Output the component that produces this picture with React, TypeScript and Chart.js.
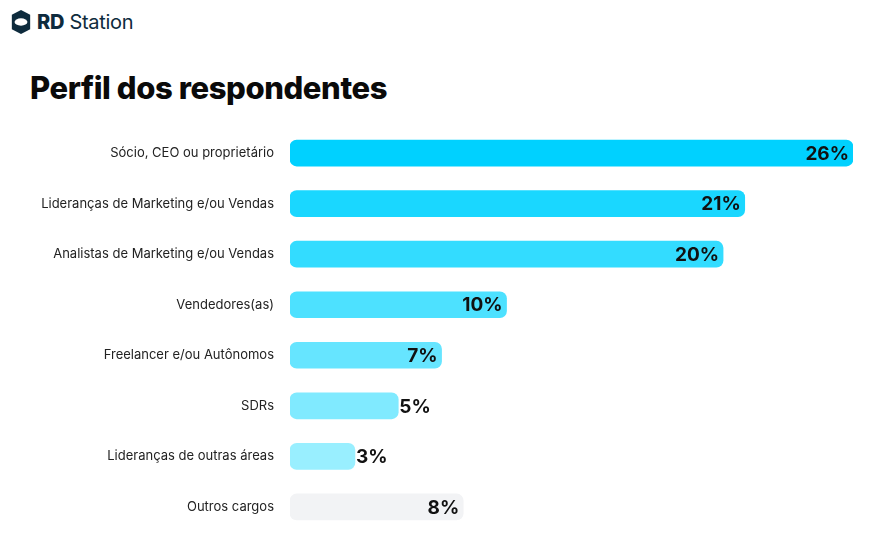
import React, { useEffect, useRef } from "react";
import { Chart, registerables } from "chart.js";
Chart.register(...registerables);

const categories = ["Sócio, CEO ou proprietário", "Lideranças de Marketing e/ou Vendas", "Analistas de Marketing e/ou Vendas", "Vendedores(as)", "Freelancer e/ou Autônomos", "SDRs", "Lideranças de outras áreas", "Outros cargos"];
const values = [26, 21, 20, 10, 7, 5, 3, 8];
const colors = ["#00d1ff", "#1ad7ff", "#33dcff", "#4de1ff", "#66e5ff", "#80eaff", "#99efff", "#f2f3f5"];
const outside = [false, false, false, false, false, true, true, false];

export default function App() {
  const ref = useRef<HTMLCanvasElement>(null);
  useEffect(() => {
    const labelPlugin = {
      id: "vals",
      afterDatasetsDraw(chart: any) {
        const ctx = chart.ctx;
        const meta = chart.getDatasetMeta(0);
        ctx.save();
        ctx.font = "700 19px Inter";
        ctx.fillStyle = "#111";
        ctx.textBaseline = "middle";
        meta.data.forEach((bar: any, i: number) => {
          const t = values[i] + "%";
          if (outside[i]) { ctx.textAlign = "left"; ctx.fillText(t, bar.x + 1, bar.y + 1); }
          else { ctx.textAlign = "right"; ctx.fillText(t, bar.x - 4, bar.y + 1); }
        });
        ctx.restore();
      },
    };
    const c = new Chart(ref.current!, {
      type: "bar",
      data: { labels: categories, datasets: [{ data: values, backgroundColor: colors, borderRadius: 7, borderSkipped: false, barThickness: 26 }] },
      options: {
        indexAxis: "y", animation: false, responsive: false, maintainAspectRatio: false,
        layout: { padding: { right: 16, top: 0, bottom: 0, left: 0 } },
        plugins: { legend: { display: false }, tooltip: { enabled: false }, title: { display: false } },
        scales: {
          x: { display: false, min: 0, max: 26 },
          y: {
            grid: { display: false }, border: { display: false },
            ticks: { color: "#222", font: { family: "Inter", size: 13 }, padding: 8 },
            afterFit: (s: any) => { s.width = 290; },
          },
        },
      },
      plugins: [labelPlugin],
    });
    return () => c.destroy();
  }, []);
  return (
    <div style={{ position: "absolute", left: 0, top: 0, width: 869, height: 540, background: "#fff", fontFamily: "Inter" }}>
      <div style={{ position: "absolute", left: 10, top: 9, display: "flex", alignItems: "center", color: "#0e2b3d" }}>
        <svg width="22" height="26" viewBox="0 0 24 28">
          <path d="M12 1 L22 6 L22 22 L12 27 L2 22 L2 6 Z" fill="#0e2b3d" />
          <ellipse cx="12" cy="14" rx="7" ry="4" fill="#fff" />
        </svg>
        <span style={{ fontSize: 20, marginLeft: 5, letterSpacing: -0.3, fontWeight: 400 }}><b style={{ fontWeight: 800 }}>RD</b> Station</span>
      </div>
      <div style={{ position: "absolute", left: 30, top: 69, fontSize: 31, fontWeight: 800, color: "#0a0a0a", letterSpacing: -0.4 }}>Perfil dos respondentes</div>
      <div style={{ position: "absolute", left: 0, top: 112, width: 869, height: 436 }}>
        <canvas ref={ref} width={869} height={436} style={{ display: "block", width: 869, height: 436 }} />
      </div>
    </div>
  );
}
